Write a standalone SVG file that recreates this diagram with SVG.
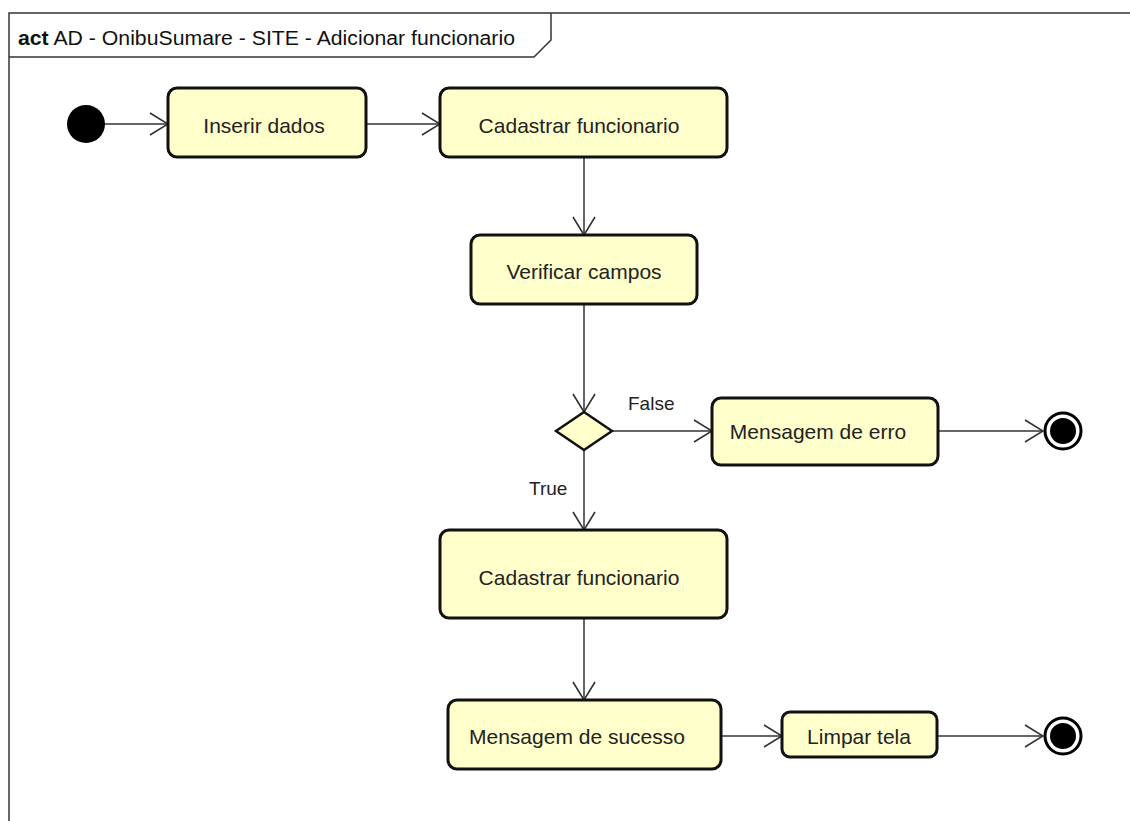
<svg xmlns="http://www.w3.org/2000/svg" width="1130" height="821" viewBox="0 0 1130 821">
  <style>
    .frame { fill: none; stroke: #333; stroke-width: 1.5; }
    .action { fill: #ffffcc; stroke: #111; stroke-width: 3; }
    .label { font-family: "Liberation Sans", Arial, sans-serif; font-size: 21px; fill: #222; text-anchor: middle; }
    .guard { font-family: "Liberation Sans", Arial, sans-serif; font-size: 19px; fill: #222; }
    .title { font-family: "Liberation Sans", Arial, sans-serif; font-size: 20px; fill: #111; }
    .flow { fill: none; stroke: #333; stroke-width: 1.5; marker-end: url(#open); }
  </style>
  <defs>
    <marker id="open" viewBox="0 0 20 24" refX="19" refY="12" markerWidth="20" markerHeight="24" markerUnits="userSpaceOnUse" orient="auto">
      <polyline points="1,1 19,12 1,23" fill="none" stroke="#333" stroke-width="1.6"/>
    </marker>
  </defs>

  <rect width="1130" height="821" fill="#ffffff"/>

  <!-- activity frame -->
  <g id="frame">
    <path class="frame" d="M9,821 V13 H1130"/>
    <path class="frame" d="M9,57 H534 L551,40 V13"/>
    <text class="title" x="18" y="45" textLength="497" lengthAdjust="spacingAndGlyphs"><tspan font-weight="bold">act</tspan> AD - OnibuSumare - SITE - Adicionar funcionario</text>
  </g>

  <!-- control flows -->
  <g id="connectors">
    <line class="flow" x1="104" y1="124" x2="168" y2="124"/>
    <line class="flow" x1="366" y1="124" x2="440" y2="124"/>
    <line class="flow" x1="584" y1="157" x2="584" y2="235"/>
    <line class="flow" x1="584" y1="304" x2="584" y2="412"/>
    <line class="flow" x1="612" y1="431" x2="712" y2="431"/>
    <line class="flow" x1="938" y1="431" x2="1043" y2="431"/>
    <line class="flow" x1="584" y1="450" x2="584" y2="530"/>
    <line class="flow" x1="584" y1="618" x2="584" y2="700"/>
    <line class="flow" x1="721" y1="736" x2="782" y2="736"/>
    <line class="flow" x1="937" y1="736" x2="1043" y2="736"/>
    <text class="guard" x="628" y="410">False</text>
    <text class="guard" x="529" y="495">True</text>
  </g>

  <g id="initial">
    <circle cx="86" cy="124" r="19" fill="#000"/>
  </g>

  <g id="inserir-dados">
    <rect class="action" x="168" y="88" width="198" height="69" rx="9"/>
    <text class="label" x="264" y="133">Inserir dados</text>
  </g>

  <g id="cadastrar-funcionario-1">
    <rect class="action" x="440" y="88" width="287" height="69" rx="9"/>
    <text class="label" x="579" y="133">Cadastrar funcionario</text>
  </g>

  <g id="verificar-campos">
    <rect class="action" x="471" y="235" width="226" height="69" rx="9"/>
    <text class="label" x="584" y="279">Verificar campos</text>
  </g>

  <g id="decision">
    <polygon points="584,412 612,431 584,450 556,431" fill="#ffffcc" stroke="#111" stroke-width="2.5"/>
  </g>

  <g id="mensagem-erro">
    <rect class="action" x="712" y="398" width="226" height="67" rx="9"/>
    <text class="label" x="818" y="439">Mensagem de erro</text>
  </g>

  <g id="final-erro">
    <circle cx="1063" cy="431" r="18" fill="#fff" stroke="#000" stroke-width="3"/>
    <circle cx="1063" cy="431" r="13" fill="#000"/>
  </g>

  <g id="cadastrar-funcionario-2">
    <rect class="action" x="440" y="530" width="287" height="88" rx="9"/>
    <text class="label" x="579" y="585">Cadastrar funcionario</text>
  </g>

  <g id="mensagem-sucesso">
    <rect class="action" x="448" y="700" width="273" height="69" rx="9"/>
    <text class="label" x="577" y="744">Mensagem de sucesso</text>
  </g>

  <g id="limpar-tela">
    <rect class="action" x="782" y="712" width="155" height="45" rx="8"/>
    <text class="label" x="859" y="744">Limpar tela</text>
  </g>

  <g id="final-sucesso">
    <circle cx="1063" cy="736" r="18" fill="#fff" stroke="#000" stroke-width="3"/>
    <circle cx="1063" cy="736" r="13" fill="#000"/>
  </g>
</svg>
